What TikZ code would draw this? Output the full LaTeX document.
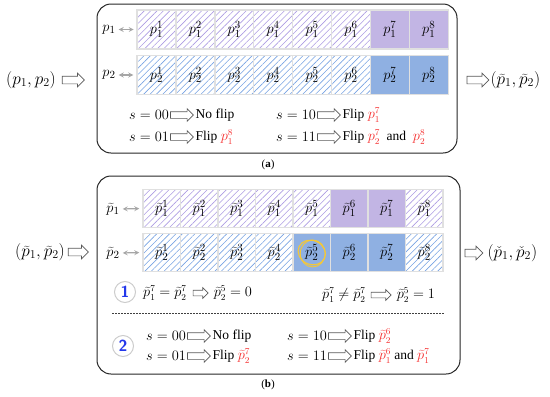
\documentclass[tikz,border=0pt]{standalone}
\usepackage[no-math]{fontspec}
\setmainfont{Liberation Serif}
\usetikzlibrary{positioning,shapes.arrows,patterns.meta}
\definecolor{cellpurple}{RGB}{194,181,228}
\definecolor{cellblue}{RGB}{143,176,226}
\definecolor{hatchpurple}{RGB}{172,155,226}
\definecolor{hatchblue}{RGB}{118,162,226}
\definecolor{flipred}{RGB}{245,45,45}
\definecolor{numblue}{RGB}{35,55,235}
\definecolor{loopyellow}{RGB}{245,200,55}
\begin{document}
\begin{tikzpicture}[x=1pt,y=-1pt]
\tikzstyle{panelbox}=[draw=black!85,line width=1pt,rounded corners=14pt,inner sep=0pt]
\tikzstyle{cellbox}=[draw=black!12,line width=1.4pt,inner sep=0pt,minimum width=38.9pt,minimum height=39pt,font=\fontsize{15.5}{17}\selectfont]
\tikzstyle{hatchtop}=[cellbox,pattern={Lines[angle=45,distance=4.5pt,line width=0.6pt]},pattern color=hatchpurple]
\tikzstyle{hatchbot}=[cellbox,pattern={Lines[angle=45,distance=4.5pt,line width=0.6pt]},pattern color=hatchblue]
\tikzstyle{solidtop}=[cellbox,fill=cellpurple]
\tikzstyle{solidbot}=[cellbox,fill=cellblue]
\tikzstyle{rowlabel}=[inner sep=1pt,font=\fontsize{15}{17}\selectfont]
\tikzstyle{hollow}=[single arrow,draw=black!65,fill=white,line width=0.7pt,inner xsep=0pt,inner ysep=3pt,minimum height=23pt,single arrow head extend=3pt]
\tikzstyle{rule}=[inner sep=1pt,font=\fontsize{13.5}{16}\selectfont]
\tikzstyle{big}=[inner sep=1pt,font=\fontsize{18.5}{21}\selectfont]
\tikzstyle{numcirc}=[circle,draw=black!20,line width=1pt,minimum size=21pt,inner sep=0pt,text=numblue,font=\sffamily\bfseries\fontsize{16}{18}\selectfont]
\useasboundingbox (0,0) rectangle (550,397);

% panel (a)
\node[panelbox,minimum width=360pt,minimum height=149pt] (boxa) at (277,78.5) {};
\foreach \i in {1,...,6}{
  \node[hatchtop] (a1c\i) at ({137+38.9*(\i-0.5)},29.5) {$p_1^{\i}$};
  \node[hatchbot] (a2c\i) at ({137+38.9*(\i-0.5)},75) {$p_2^{\i}$};
}
\foreach \i in {7,8}{
  \node[solidtop] (a1c\i) at ({137+38.9*(\i-0.5)},29.5) {$p_1^{\i}$};
  \node[solidbot] (a2c\i) at ({137+38.9*(\i-0.5)},75) {$p_2^{\i}$};
}
\node[rowlabel] (ap1) at (109,29.5) {$p_1$};
\node[rowlabel] (ap2) at (109,75) {$p_2$};
\draw[<->,>=stealth,black!35,line width=1.2pt,shorten <=2pt,shorten >=3pt] (ap1.east) -- (a1c1.west);
\draw[<->,>=stealth,black!35,line width=1.2pt,shorten <=2pt,shorten >=3pt] (ap2.east) -- (a2c1.west);

\node[rule,anchor=west] (a00) at (128,115) {$s=00$};
\node[hollow,right=0pt of a00] (a00arr) {};
\node[rule,right=0.5pt of a00arr] (a00txt) {No flip};
\node[rule,anchor=west] (a01) at (128,137) {$s=01$};
\node[hollow,right=0pt of a01] (a01arr) {};
\node[rule,right=0.5pt of a01arr] (a01txt) {Flip \textcolor{flipred}{$p_1^8$}};
\node[rule,anchor=west] (a10) at (275,115) {$s=10$};
\node[hollow,right=0pt of a10] (a10arr) {};
\node[rule,right=0.5pt of a10arr] (a10txt) {Flip \textcolor{flipred}{$p_1^7$}};
\node[rule,anchor=west] (a11) at (275,137) {$s=11$};
\node[hollow,right=0pt of a11] (a11arr) {};
\node[rule,right=0.5pt of a11arr] (a11txt) {Flip \textcolor{flipred}{$p_2^7$}\ \ and \ \textcolor{flipred}{$p_2^8$}};

\node[big] (ain) at (31,80) {$(p_1,p_2)$};
\node[hollow,minimum height=22pt,inner ysep=3.5pt,right=5pt of ain] (ainarr) {};
\node[hollow,minimum height=22pt,inner ysep=3.5pt] (aoutarr) at (476,80) {};
\node[big,right=0pt of aoutarr] (aout) {$(\widetilde{p}_1,\widetilde{p}_2)$};
\node[font=\fontsize{11}{13}\selectfont] (capa) at (268,165) {(\textbf{a})};

% panel (b)
\node[panelbox,minimum width=363pt,minimum height=198pt] (boxb) at (278.5,275) {};
\tikzstyle{cellbox}=[draw=black!12,line width=1.4pt,inner sep=0pt,minimum width=37.5pt,minimum height=38pt,font=\fontsize{15.5}{17}\selectfont]
\foreach \i/\kind in {1/hatchtop,2/hatchtop,3/hatchtop,4/hatchtop,5/hatchtop,6/solidtop,7/solidtop,8/hatchtop}
  \node[\kind] (b1c\i) at ({143+37.5*(\i-0.5)},208.5) {$\widetilde{p}_1^{\i}$};
\foreach \i/\kind in {1/hatchbot,2/hatchbot,3/hatchbot,4/hatchbot,5/solidbot,6/solidbot,7/solidbot,8/hatchbot}
  \node[\kind] (b2c\i) at ({143+37.5*(\i-0.5)},252.5) {$\widetilde{p}_2^{\i}$};
\draw[loopyellow,line width=1.1pt,rotate around={-25:(b2c5.center)}] (b2c5.center) ellipse (14pt and 12pt);
\draw[loopyellow,line width=0.9pt] ([xshift=1pt,yshift=-1pt]b2c5.center) ellipse (12.5pt and 13.5pt);
\node[rowlabel] (bp1) at (113,209) {$\widetilde{p}_1$};
\node[rowlabel] (bp2) at (113,253) {$\widetilde{p}_2$};
\draw[<->,>=stealth,black!35,line width=1.2pt,shorten <=2pt,shorten >=3pt] (bp1.east) -- (b1c1.west);
\draw[<->,>=stealth,black!35,line width=1.2pt,shorten <=2pt,shorten >=3pt] (bp2.east) -- (b2c1.west);

\node[numcirc] (one) at (125,292) {1};
\node[rule,anchor=west] (eqsame) at (142,293) {$\widetilde{p}_1^7=\widetilde{p}_2^7$};
\node[hollow,minimum height=15pt,inner ysep=2.5pt,single arrow head extend=2.5pt,right=5pt of eqsame] (eqsamearr) {};
\node[rule,right=4pt of eqsamearr] (ressame) {$\widetilde{p}_2^5=0$};
\node[rule,anchor=west] (eqdiff) at (321,295) {$\widetilde{p}_1^7\neq\widetilde{p}_2^7$};
\node[hollow,minimum height=20pt,inner ysep=2.5pt,single arrow head extend=2.5pt,right=4pt of eqdiff] (eqdiffarr) {};
\node[rule,right=4pt of eqdiffarr] (resdiff) {$\widetilde{p}_2^5=1$};
\draw[black!75,line width=0.6pt,dash pattern=on 1.5pt off 1.5pt] (112,313) -- (445,313);

\node[numcirc] (two) at (123,346) {2};
\node[rule,anchor=west] (b00) at (145,336) {$s=00$};
\node[hollow,right=0pt of b00] (b00arr) {};
\node[rule,right=0.5pt of b00arr] (b00txt) {No flip};
\node[rule,anchor=west] (b01) at (145,356) {$s=01$};
\node[hollow,right=0pt of b01] (b01arr) {};
\node[rule,right=0.5pt of b01arr] (b01txt) {Flip \textcolor{flipred}{$\widetilde{p}_2^7$}};
\node[rule,anchor=west] (b10) at (286,336) {$s=10$};
\node[hollow,right=0pt of b10] (b10arr) {};
\node[rule,right=0.5pt of b10arr] (b10txt) {Flip \textcolor{flipred}{$\widetilde{p}_2^6$}};
\node[rule,anchor=west] (b11) at (286,356) {$s=11$};
\node[hollow,right=0pt of b11] (b11arr) {};
\node[rule,right=0.5pt of b11arr] (b11txt) {Flip \textcolor{flipred}{$\widetilde{p}_1^6$} and \textcolor{flipred}{$\widetilde{p}_1^7$}};

\node[big] (bin) at (40,252) {$(\widetilde{p}_1,\widetilde{p}_2)$};
\node[hollow,minimum height=20pt,inner ysep=3.5pt,right=2pt of bin] (binarr) {};
\node[hollow,minimum height=18pt,inner ysep=3.5pt] (boutarr) at (472,253) {};
\node[big,right=3pt of boutarr] (bout) {$(\check{p}_1,\check{p}_2)$};
\node[font=\fontsize{11}{13}\selectfont] (capb) at (268,385) {(\textbf{b})};
\end{tikzpicture}
\end{document}
